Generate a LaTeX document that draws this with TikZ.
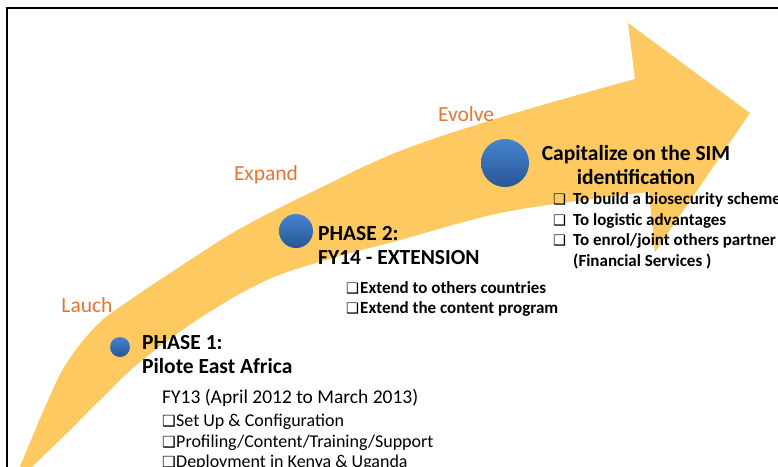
\documentclass[tikz,border=0pt]{standalone}
\usepackage{fontspec}
\setmainfont{Carlito}
\newfontfamily\symf[Scale=0.85]{DejaVu Sans}
\newcommand\bx[1]{\makebox[#1][l]{\symf ❑}}
\definecolor{arrowyellow}{RGB}{255,201,97}
\definecolor{stageorange}{RGB}{232,117,50}
\definecolor{dotlight}{RGB}{68,132,208}
\definecolor{dotdark}{RGB}{40,86,148}
\begin{document}
\begin{tikzpicture}[x=1pt,y=-1pt,
  dot/.style={circle, inner sep=0pt, draw=none, top color=dotlight, bottom color=dotdark},
  stage/.style={text=stageorange, font=\fontsize{21.5}{24}\selectfont, inner sep=0pt, anchor=base},
  headline/.style={font=\bfseries\fontsize{21.5}{24}\selectfont, inner sep=0pt, anchor=base west},
  boldbullet/.style={font=\bfseries\fontsize{17}{20}\selectfont, inner sep=0pt, anchor=base west},
  fyline/.style={font=\fontsize{19.5}{22}\selectfont, inner sep=0pt, anchor=base west},
  plainbullet/.style={font=\fontsize{18}{20}\selectfont, inner sep=0pt, anchor=base west}
]
\useasboundingbox (0,0) rectangle (778,466);
\clip (0,0) rectangle (778,466);
\fill[white] (0,0) rectangle (778,466);

% curved arrow
\fill[arrowyellow]
  plot[smooth,tension=0.6] coordinates {(16,476) (29,445) (45,407) (66,364) (97,325) (130,300) (187,262) (243,227) (320,188) (400,151) (505,116) (635,79)}
  -- (628,23) -- (750,113) -- (655,252) -- (649,192)
  -- plot[smooth,tension=0.6] coordinates {(649,192) (600,198) (500,213) (400,240) (333,258) (267,280) (200,318) (140,362) (100,400) (67,433) (33,466) (20,482)}
  -- cycle;

% frame
\draw[line width=2pt] (6.5,500) -- (6.5,7.5) -- (800,7.5);

% stage dots
\node[dot, minimum size=20pt] (d1) at (120,347) {};
\node[dot, minimum size=34pt] (d2) at (296,231) {};
\node[dot, minimum size=48pt] (d3) at (505,163) {};

% stage labels
\node[stage] (lauch) at (87,312) {Lauch};
\node[stage] (expand) at (266,180) {Expand};
\node[stage] (evolve) at (466,121) {Evolve};

% phase 3
\node[headline, anchor=base] (cap1) at (636,160) {Capitalize on the SIM};
\node[headline, anchor=base] (cap2) at (636,184) {identification};
\node[boldbullet] (b31) at (553,204.5) {\bx{20pt}To build a biosecurity scheme};
\node[boldbullet] (b32) at (553,225) {\bx{20pt}To logistic advantages};
\node[boldbullet] (b33) at (553,245.5) {\bx{20pt}To enrol/joint others partner};
\node[boldbullet] (b34) at (573,266) {(Financial Services )};

% phase 2
\node[headline] (p2a) at (318,240) {PHASE 2:};
\node[headline] (p2b) at (318,264) {FY14 - EXTENSION};
\node[boldbullet] (b21) at (346,293.5) {\bx{14pt}Extend to others countries};
\node[boldbullet] (b22) at (346,313.5) {\bx{14pt}Extend the content program};

% phase 1
\node[headline] (p1a) at (142,349) {PHASE 1:};
\node[headline] (p1b) at (142,373) {Pilote East Africa};
\node[fyline] (fy13) at (162,403.5) {FY13 (April 2012 to March 2013)};
\node[plainbullet] (b11) at (162,426) {\bx{14pt}Set Up \& Configuration};
\node[plainbullet] (b12) at (162,447) {\bx{14pt}Profiling/Content/Training/Support};
\node[plainbullet] (b13) at (162,467) {\bx{14pt}Deployment in Kenya \& Uganda};
\end{tikzpicture}
\end{document}
